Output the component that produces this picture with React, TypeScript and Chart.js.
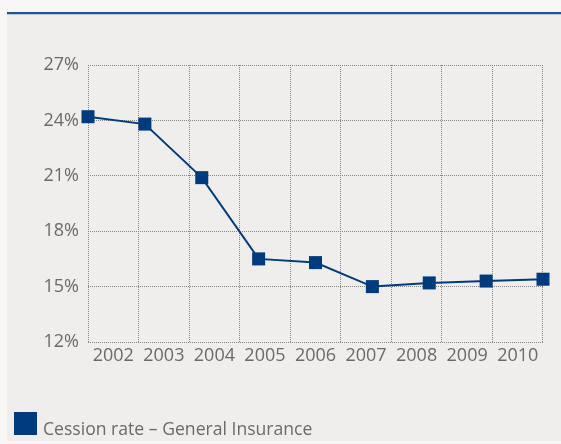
import React, { useEffect, useRef } from "react";
import { Chart, registerables } from "chart.js";

Chart.register(...registerables);

const years = ["2002", "2003", "2004", "2005", "2006", "2007", "2008", "2009", "2010"];
const cessionRate = [24.2, 23.8, 20.9, 16.5, 16.3, 15.0, 15.2, 15.3, 15.4];
const yMin = 12;
const yMax = 27;
const yStep = 3;
const seriesLabel = "Cession rate – General Insurance";

const FONT = "'Open Sans', 'Noto Sans', sans-serif";
const BLUE = "#003b7d";
const TEXT = "#6a6a6a";
const GRID = "#858585";

export default function App() {
  const ref = useRef<HTMLCanvasElement | null>(null);

  useEffect(() => {
    document.body.style.margin = "0";
    const canvas = ref.current;
    if (!canvas) return;
    const chart = new Chart(canvas, {
      type: "line",
      data: {
        labels: years,
        datasets: [
          {
            label: seriesLabel,
            data: cessionRate,
            xAxisID: "xData",
            borderColor: BLUE,
            borderWidth: 2,
            backgroundColor: BLUE,
            pointStyle: "rect",
            pointRadius: 9.2,
            pointHoverRadius: 9.2,
            pointBorderWidth: 0,
            pointBackgroundColor: BLUE,
            tension: 0,
            fill: false,
            clip: false as any,
          },
        ],
      },
      options: {
        animation: false,
        responsive: false,
        devicePixelRatio: 1,
        layout: { padding: { left: 0, right: 18, top: 65, bottom: 62 } },
        plugins: {
          legend: { display: false },
          tooltip: { enabled: false },
        },
        scales: {
          x: {
            type: "category",
            offset: true,
            grid: {
              offset: true,
              color: GRID,
              lineWidth: 1,
              drawTicks: false,
            },
            border: { display: false, dash: [1, 1] },
            ticks: {
              color: TEXT,
              font: { family: FONT, size: 18 },
              padding: 3,
              maxRotation: 0,
              autoSkip: false,
            },
            afterFit: (s: any) => {
              s.height = 40;
            },
          },
          xData: {
            type: "category",
            offset: false,
            display: false,
          },
          y: {
            min: yMin,
            max: yMax,
            grid: {
              color: GRID,
              lineWidth: 1,
              drawTicks: false,
            },
            border: { display: false, dash: [1, 1] },
            ticks: {
              stepSize: yStep,
              color: TEXT,
              font: { family: FONT, size: 18 },
              padding: 9,
              callback: (v: any) => `${v}%`,
            },
            afterFit: (s: any) => {
              s.width = 88;
            },
          },
        },
      },
    });
    return () => chart.destroy();
  }, []);

  return (
    <div style={{ position: "relative", width: 561, height: 444, background: "#f8f7f5", overflow: "hidden" }}>
      <div
        style={{
          position: "absolute",
          left: 7,
          top: 12,
          width: 554,
          height: 429,
          background: "#efeeec",
          borderTop: "2px solid #1f5596",
          boxSizing: "border-box",
        }}
      >
        <div style={{ height: 1, background: "#b9c9dc" }} />
      </div>
      <canvas ref={ref} width={561} height={444} style={{ position: "absolute", left: 0, top: 0, width: 561, height: 444 }} />
      <span style={{ position: "absolute", left: 14, top: 412, width: 23, height: 23, background: BLUE }} />
      <span
        style={{
          position: "absolute",
          left: 43,
          top: 415.5,
          fontFamily: FONT,
          fontSize: 17.6,
          lineHeight: "24px",
          color: TEXT,
          whiteSpace: "nowrap",
        }}
      >
        {seriesLabel}
      </span>
    </div>
  );
}
